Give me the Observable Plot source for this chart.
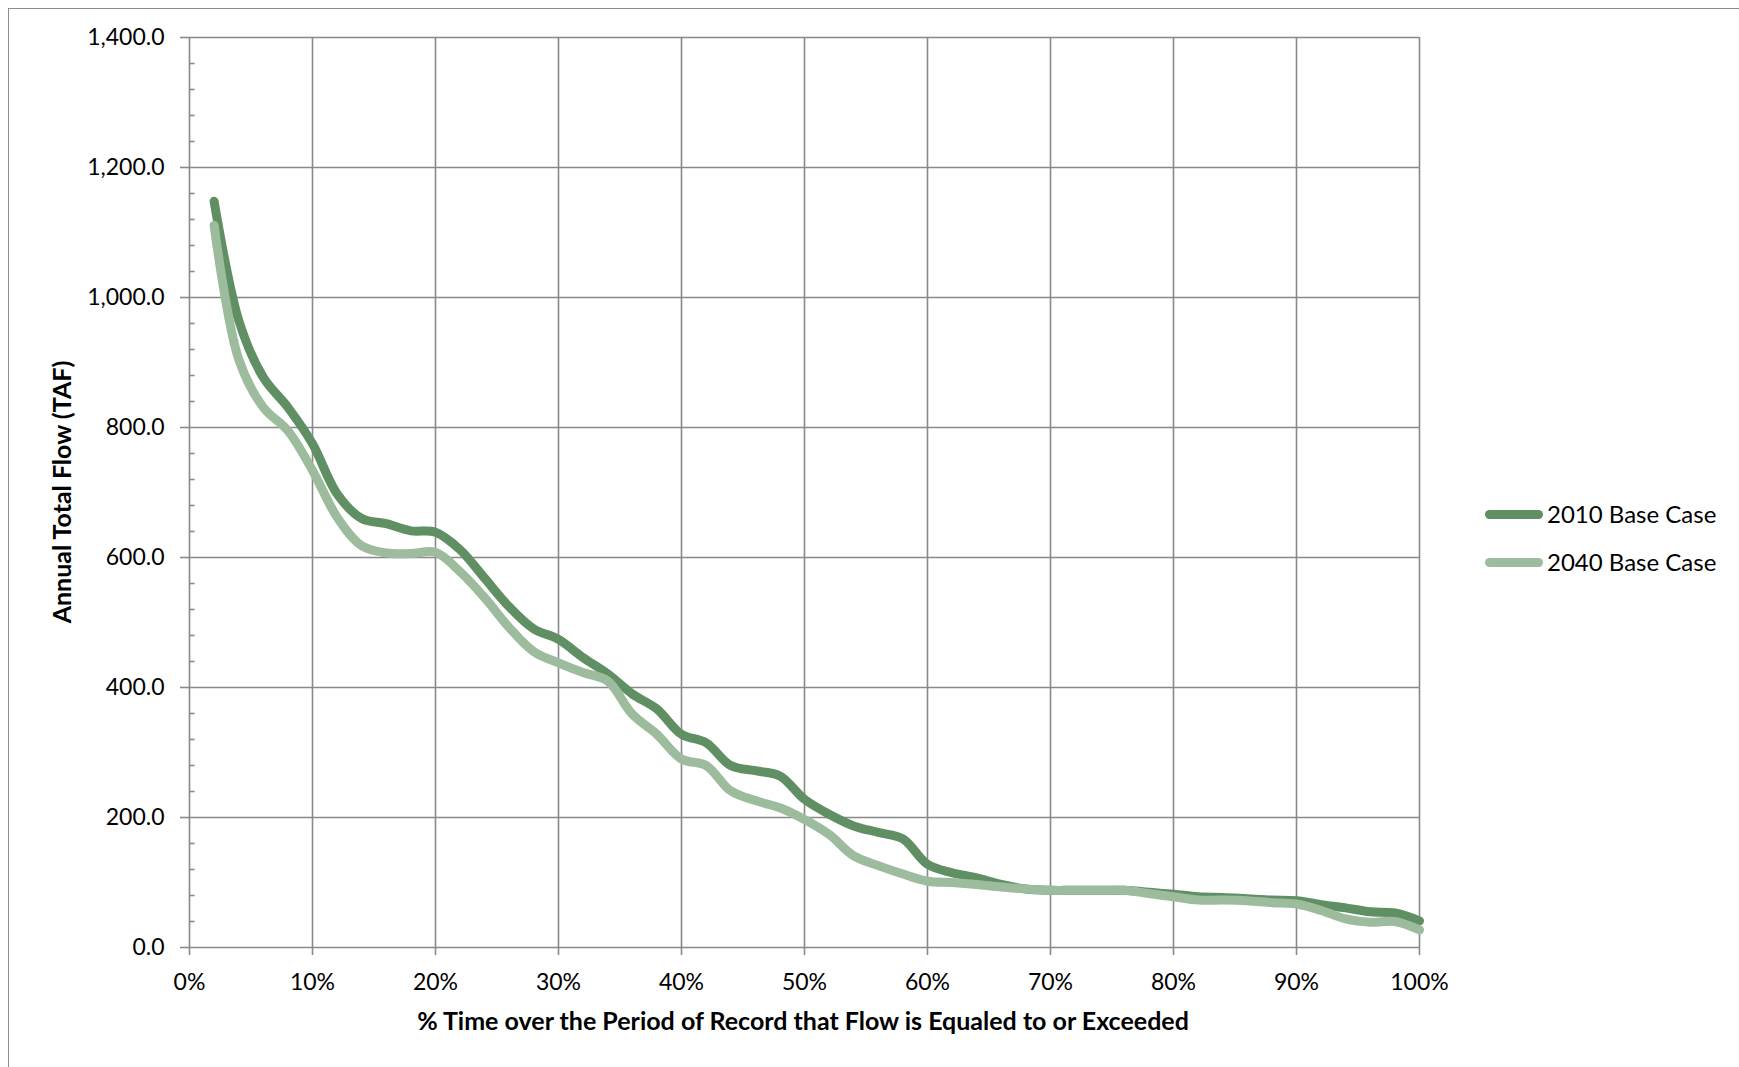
<!DOCTYPE html>
<html>
<head>
<meta charset="utf-8">
<script src="https://cdn.jsdelivr.net/npm/d3@7"></script>
<script src="https://cdn.jsdelivr.net/npm/@observablehq/plot@0.6"></script>
<style>
  html, body { margin: 0; padding: 0; background: #fff; overflow: hidden; }
  #wrap { position: relative; width: 1739px; height: 1067px; font-family: Lato, "Noto Sans", sans-serif; color: #000; }
  #chart { position: absolute; left: 0; top: 0; }
  .frame { position: absolute; left: 8px; top: 8px; width: 2000px; height: 2000px; border: 1.5px solid #8c8c8c; pointer-events: none; }
  .xtitle { position: absolute; left: 203px; width: 1200px; top: 1008px; text-align: center; font-weight: 700; font-size: 25px; line-height: 25px; white-space: nowrap; }
  .ytitle { position: absolute; left: 61px; top: 492px; transform: translate(-50%, -50%) rotate(-90deg); font-weight: 700; font-size: 25px; line-height: 25px; white-space: nowrap; }
  .leg { position: absolute; left: 1485px; font-size: 24px; line-height: 30px; white-space: nowrap; }
  .leg .sw { position: absolute; left: 0; width: 58px; height: 9px; border-radius: 4.5px; }
  .leg .lbl { position: absolute; left: 62px; top: 0; }
</style>
</head>
<body>
<div id="wrap">
  <div id="chart"></div>
  <div class="xtitle" id="xtitle"></div>
  <div class="ytitle" id="ytitle"></div>
  <div id="legend"></div>
  <div class="frame"></div>
</div>
<script>
// ---- data ----
const pct = [2,4,6,8,10,12,14,16,18,20,22,24,26,28,30,32,34,36,38,40,42,44,46,48,50,
             52,54,56,58,60,62,64,66,68,70,72,74,76,78,80,82,84,86,88,90,92,94,96,98,100];
const base2010 = [1148,965,877,831,775,698,660,652,641,639,612,568,524,490,474,446,421,390,367,328,315,280,272,264,228,
                  205,187,177,167,128,115,107,97,90,88,88,88,88,85,82,78,77,75,73,72,66,61,55,53,41];
const base2040 = [1111,905,831,795,734,662,618,607,606,608,578,538,492,455,438,423,410,359,328,290,280,241,226,215,197,
                  174,141,126,113,102,100,97,93,90,88,88,88,88,83,78,73,73,72,69,67,57,44,39,40,27];
const seriesNames = ["2010 Base Case", "2040 Base Case"];
const seriesColors = ["#5f8f63", "#9dbc9e"];
const yTicks = [0,200,400,600,800,1000,1200,1400];
const yMinor = d3.range(0, 1400, 40).filter(v => v % 200 !== 0);
const xTicks = [0,10,20,30,40,50,60,70,80,90,100];
const xTitle = "% Time over the Period of Record that Flow is Equaled to or Exceeded";
const yTitle = "Annual Total Flow (TAF)";

// ---- build ----
const rows = [];
[base2010, base2040].forEach((arr, k) => arr.forEach((v, i) => rows.push({p: pct[i], v, s: seriesNames[k]})));

const gridColor = "#898989";
const chart = Plot.plot({
  width: 1739,
  height: 1067,
  marginLeft: 189,
  marginRight: 320,
  marginTop: 37,
  marginBottom: 120,
  x: {domain: [0, 100]},
  y: {domain: [0, 1400]},
  color: {domain: seriesNames, range: seriesColors},
  style: {fontFamily: "Lato, 'Noto Sans', sans-serif", fontSize: "23px", color: "#000", background: "transparent", overflow: "visible"},
  marks: [
    Plot.gridX(xTicks, {stroke: gridColor, strokeOpacity: 1, strokeWidth: 1.6}),
    Plot.gridY(yTicks, {stroke: gridColor, strokeOpacity: 1, strokeWidth: 1.6}),
    Plot.ruleY(yMinor, {x1: 0, x2: 0.45, stroke: gridColor, strokeWidth: 1.6}),
    Plot.axisY(yTicks, {tickFormat: d3.format(",.1f"), tickSize: 9, tickPadding: 16, stroke: gridColor, strokeWidth: 1.6, strokeOpacity: 1, fill: "#000", label: null, fontSize: 23}),
    Plot.axisX(xTicks, {tickFormat: d => d + "%", tickSize: 8, tickPadding: 18, stroke: gridColor, strokeWidth: 1.6, strokeOpacity: 1, fill: "#000", label: null, fontSize: 23}),
    Plot.line(rows, {x: "p", y: "v", stroke: "s", z: "s", strokeWidth: 9, curve: "catmull-rom", strokeLinecap: "round", strokeLinejoin: "round"})
  ]
});
document.getElementById("chart").appendChild(chart);
document.getElementById("xtitle").textContent = xTitle;
document.getElementById("ytitle").textContent = yTitle;

const legend = document.getElementById("legend");
const legTops = [498.5, 546.5];
seriesNames.forEach((name, i) => {
  const d = document.createElement("div");
  d.className = "leg";
  d.style.top = legTops[i] + "px";
  const sw = document.createElement("span");
  sw.className = "sw";
  sw.style.background = seriesColors[i];
  sw.style.top = "11.5px";
  const lb = document.createElement("span");
  lb.className = "lbl";
  lb.textContent = name;
  d.appendChild(sw); d.appendChild(lb);
  legend.appendChild(d);
});
</script>
</body>
</html>
